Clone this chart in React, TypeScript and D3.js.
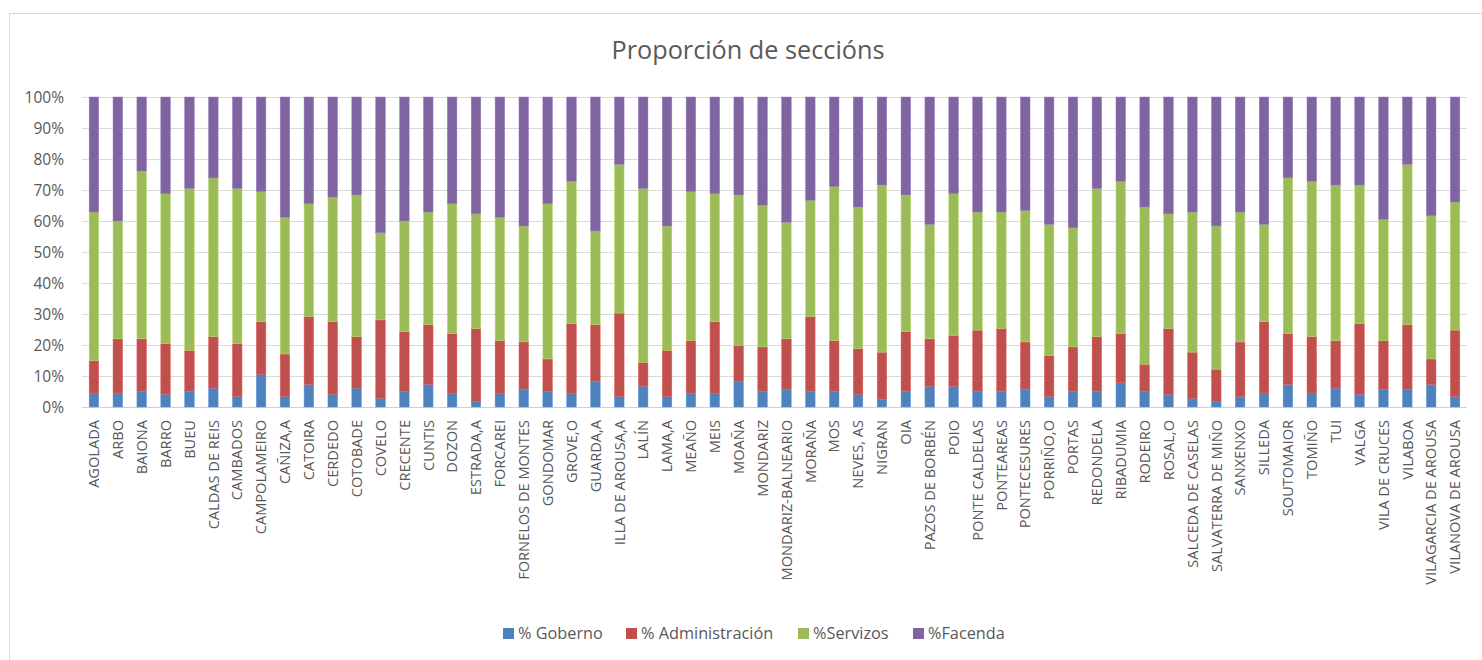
import React from "react";
import * as d3 from "d3";

const categories = [
  "AGOLADA", "ARBO", "BAIONA", "BARRO", "BUEU", "CALDAS DE REIS", "CAMBADOS", "CAMPOLAMEIRO",
  "CAÑIZA,A", "CATOIRA", "CERDEDO", "COTOBADE", "COVELO", "CRECENTE", "CUNTIS", "DOZON",
  "ESTRADA,A", "FORCAREI", "FORNELOS DE MONTES", "GONDOMAR", "GROVE,O", "GUARDA,A",
  "ILLA DE AROUSA,A", "LALÍN", "LAMA,A", "MEAÑO", "MEIS", "MOAÑA", "MONDARIZ",
  "MONDARIZ-BALNEARIO", "MORAÑA", "MOS", "NEVES, AS", "NIGRAN", "OIA", "PAZOS DE BORBÉN",
  "POIO", "PONTE CALDELAS", "PONTEAREAS", "PONTECESURES", "PORRIÑO,O", "PORTAS",
  "REDONDELA", "RIBADUMIA", "RODEIRO", "ROSAL,O", "SALCEDA DE CASELAS", "SALVATERRA DE MIÑO",
  "SANXENXO", "SILLEDA", "SOUTOMAIOR", "TOMIÑO", "TUI", "VALGA", "VILA DE CRUCES",
  "VILABOA", "VILAGARCIA DE AROUSA", "VILANOVA DE AROUSA",
];

const goberno = [
  4.5, 4.5, 5.1, 4.1, 5.1, 6.1, 3.4, 10.5, 3.4, 7.3, 4.1, 6.1, 2.8, 5.1, 7.3, 4.5,
  1.7, 4.5, 5.7, 5.1, 4.5, 8.3, 3.4, 6.7, 3.4, 4.5, 4.5, 8.3, 5.1, 5.7, 5.1, 5.1,
  4.1, 2.4, 5.1, 6.7, 6.7, 5.1, 5.1, 5.7, 3.4, 5.1, 5.1, 7.8, 5.1, 4.1, 2.8, 1.7,
  3.4, 4.5, 7.3, 4.5, 6.1, 4.1, 5.7, 5.7, 7.3, 3.4,
];
const administracion = [
  10.4, 17.5, 16.9, 16.3, 13.2, 16.6, 17.0, 17.0, 13.7, 21.9, 23.4, 16.6, 25.3, 19.2, 19.3, 19.2,
  23.6, 16.9, 15.3, 10.4, 22.4, 18.3, 26.9, 7.7, 14.9, 16.9, 23.0, 11.6, 14.3, 16.3, 24.1, 16.3,
  14.7, 15.3, 19.2, 15.3, 16.4, 19.7, 20.2, 15.3, 13.2, 14.3, 17.6, 15.9, 8.7, 21.2, 14.9, 10.5,
  17.6, 23.0, 16.4, 18.2, 15.3, 22.8, 15.7, 20.9, 8.2, 21.4,
];
const servizos = [
  48.0, 38.0, 54.1, 48.4, 52.2, 51.2, 50.1, 42.0, 44.1, 36.4, 40.2, 45.7, 28.1, 35.7, 36.3, 41.9,
  37.0, 39.8, 37.4, 50.1, 45.9, 30.2, 48.0, 56.1, 40.1, 48.1, 41.3, 48.5, 45.7, 37.6, 37.5, 49.7,
  45.7, 53.9, 44.1, 36.9, 45.7, 38.1, 37.6, 42.4, 42.3, 38.4, 47.8, 49.1, 50.7, 37.0, 45.2, 46.2,
  41.9, 31.4, 50.2, 50.1, 50.2, 44.7, 39.1, 51.7, 46.2, 41.3,
];
const facenda = [
  37.1, 40.0, 23.9, 31.2, 29.5, 26.1, 29.5, 30.5, 38.8, 34.4, 32.3, 31.6, 43.8, 40.0, 37.1, 34.4,
  37.7, 38.8, 41.6, 34.4, 27.2, 43.2, 21.7, 29.5, 41.6, 30.5, 31.2, 31.6, 34.9, 40.4, 33.3, 28.9,
  35.5, 28.4, 31.6, 41.1, 31.2, 37.1, 37.1, 36.6, 41.1, 42.2, 29.5, 27.2, 35.5, 37.7, 37.1, 41.6,
  37.1, 41.1, 26.1, 27.2, 28.4, 28.4, 39.5, 21.7, 38.3, 33.9,
];

const seriesNames = ["% Goberno", "% Administración", "%Servizos", "%Facenda"];
const seriesColors = ["#4F81BD", "#C0504D", "#9BBB59", "#8064A2"];
const yTicks = [0, 10, 20, 30, 40, 50, 60, 70, 80, 90, 100];
const title = "Proporción de seccións";

const W = 1482;
const H = 660;
const plot = { left: 82, right: 1467, top: 97, bottom: 407 };
const FONT = "'Open Sans', 'DejaVu Sans', sans-serif";
const TEXT = "#595959";

export default function App() {
  const values = [goberno, administracion, servizos, facenda];
  const rows = categories.map((c, i) => {
    const r: any = { cat: c };
    seriesNames.forEach((s, k) => (r[s] = values[k][i]));
    const tot = values.reduce((a, v) => a + v[i], 0);
    seriesNames.forEach((s) => (r[s] = (r[s] / tot) * 100));
    return r;
  });
  const stacked = d3.stack<any>().keys(seriesNames)(rows);

  const x = d3.scaleBand<string>().domain(categories).range([plot.left, plot.right]).paddingInner(0.6).paddingOuter(0.3);
  const y = d3.scaleLinear().domain([0, 100]).range([plot.bottom, plot.top]);

  const legendItems = [
    { x: 503, tx: 518 },
    { x: 626, tx: 641 },
    { x: 798, tx: 813 },
    { x: 913, tx: 928 },
  ];

  return (
    <div style={{ position: "absolute", left: 0, top: 0 }}>
      <svg width={W} height={H} style={{ display: "block", background: "#fff" }}>
        <rect x={9.5} y={13.5} width={W} height={H} fill="#fff" stroke="#D9D9D9" strokeWidth={1} />
        <text x={748} y={59} textAnchor="middle" fontFamily={FONT} fontSize={25} fill={TEXT}
          textLength={273} lengthAdjust="spacingAndGlyphs">{title}</text>
        {yTicks.map((t) => (
          <g key={t}>
            <line x1={plot.left} x2={plot.right} y1={Math.round(y(t)) + 0.5} y2={Math.round(y(t)) + 0.5}
              stroke={t === 0 ? "#D0D0D0" : "#D9D9D9"} strokeWidth={1} />
            <text x={64} y={y(t)} dy="0.36em" textAnchor="end" fontFamily={FONT} fontSize={15.5} fill={TEXT}>
              {t}%
            </text>
          </g>
        ))}
        {stacked.map((s, k) => (
          <g key={s.key} fill={seriesColors[k]}>
            {s.map((d, i) => (
              <rect key={i} x={x(categories[i])!} width={x.bandwidth()} y={y(d[1])} height={y(d[0]) - y(d[1])}
                stroke={d3.color(seriesColors[k])!.brighter(0.5).formatHex()} strokeWidth={0.5} />
            ))}
          </g>
        ))}
        {categories.map((c) => {
          const cx = x(c)! + x.bandwidth() / 2;
          return (
            <text key={c} transform={`translate(${cx},420) rotate(-90)`} dy="0.36em" textAnchor="end"
              fontFamily={FONT} fontSize={14.6} fill={TEXT}>{c}</text>
          );
        })}
        {seriesNames.map((s, k) => (
          <g key={s}>
            <rect x={legendItems[k].x} y={628} width={11} height={11} fill={seriesColors[k]} />
            <text x={legendItems[k].tx} y={633.5} dy="0.36em" fontFamily={FONT} fontSize={16.3} fill={TEXT}>{s}</text>
          </g>
        ))}
      </svg>
    </div>
  );
}
